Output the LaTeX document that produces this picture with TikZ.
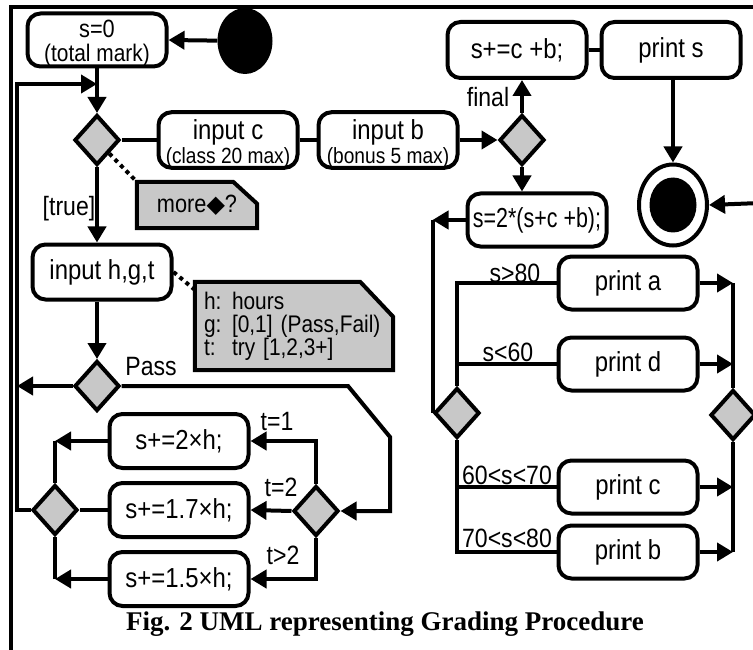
\documentclass[tikz,border=0pt]{standalone}
\usepackage{fontspec}
\setmainfont{Liberation Sans}[FakeStretch=0.87]
\newfontfamily\symfont{DejaVu Sans}
\newfontfamily\capfont{Liberation Serif}
\newfontfamily\narrowfont{Liberation Sans}[FakeStretch=0.78]
\usetikzlibrary{arrows.meta,shapes.geometric,backgrounds}
\definecolor{boxgray}{RGB}{200,200,200}

\tikzset{
  act/.style={draw, line width=4pt, rounded corners=13pt, minimum width=139pt,
    minimum height=53pt, inner sep=0pt, align=center,
    font=\fontsize{27.5}{23}\selectfont},
  dec/.style={draw, line width=4pt, diamond, fill=boxgray, minimum width=45pt,
    minimum height=50pt, inner sep=0pt},
  flow/.style={line width=4pt, line join=miter, -{Triangle[length=16pt,width=18pt]}},
  wire/.style={line width=4pt, line join=miter},
  guard/.style={font=\fontsize{26.5}{25}\selectfont, inner sep=0pt},
  notelink/.style={line width=4pt, dash pattern=on 4pt off 4pt},
  noteshape/.style={draw, line width=4pt, fill=boxgray, line join=miter},
}

\begin{document}
\begin{tikzpicture}[x=1pt,y=-1pt]
\useasboundingbox (0,0) rectangle (753,650);

% frame
\draw[line width=3.5pt] (11,650) -- (11,7) -- (753,7);

% ---------- initial part ----------
\node[fill=black, ellipse, minimum width=55pt, minimum height=66pt, inner sep=0pt] (start) at (245,41) {};
\node[act] (s0) at (97,40) {\rule{0pt}{24pt}{\fontsize{25}{23}\selectfont s=0}\\[1pt]{\fontsize{24}{23}\selectfont (total mark)}};
\node[dec] (d1) at (97,140) {};
\node[act] (inc) at (228,140) {\rule{0pt}{27pt}input c\\[1pt]{\fontsize{22}{23}\selectfont (class 20 max)}};
\node[act] (inb) at (388,140) {\rule{0pt}{27pt}input b\\[1pt]{\fontsize{22}{23}\selectfont (bonus 5 max)}};
\node[dec] (d3) at (522,140) {};
\node[act, minimum height=56pt] (sc) at (517,50) {s+=c +b;};
\node[act, minimum height=56pt] (prs) at (671,50) {print s};
\node[draw, line width=4pt, ellipse, minimum width=68pt, minimum height=81pt, inner sep=0pt] (final) at (673,205) {};
\node[fill=black, ellipse, minimum width=47pt, minimum height=55pt, inner sep=0pt] (finaldot) at (final.center) {};
\coordinate (rin) at (760,203);

% ---------- hours loop ----------
\node[act, minimum height=55pt] (ihg) at (102,272) {input h,g,t};
\node[dec] (d2) at (97,386) {};
\node[act, minimum height=54pt] (b1) at (179,441) {s+=2×h;};
\node[act, minimum height=54pt] (b2) at (179,510) {s+=1.7×h;};
\node[act, minimum height=54pt] (b3) at (179,579) {s+=1.5×h;};
\node[dec] (d6) at (316,511) {};
\node[dec] (d7) at (55,510) {};
\coordinate (loopNW) at (17,84);
\coordinate (bendA) at (348,386);
\coordinate (bendB) at (390,437);

% ---------- grading part ----------
\node[act, font=\narrowfont\fontsize{27.5}{23}\selectfont] (s2) at (537,220) {s=2*(s+c +b);};
\node[dec] (d4) at (457,413) {};
\node[act] (pa) at (628,283) {print a};
\node[act] (pd) at (628,364) {print d};
\node[act] (pc) at (628,487) {print c};
\node[act] (pb) at (628,552) {print b};
\node[dec] (d5) at (733,415) {};

% ---------- notes ----------
\node[minimum width=120pt, minimum height=46pt, inner sep=0pt,
      font=\fontsize{25}{22}\selectfont] (n1) at (197,205) {more{\symfont\fontsize{24}{24}\selectfont◆}?};
\node[minimum width=198pt, minimum height=88pt, inner sep=0pt, text width=180pt,
      align=left, font=\fontsize{24}{23}\selectfont] (n2) at (294,326)
  {\makebox[28pt][l]{h:}hours\\
   \makebox[28pt][l]{g:}[0,1] (Pass,Fail)\\
   \makebox[28pt][l]{t:}try [1,2,3+]};
\begin{scope}[on background layer]
  \draw[noteshape] (n1.south west) -- (n1.north west) -- ([xshift=-24pt]n1.north east)
    -- ([yshift=-22pt]n1.north east) -- (n1.south east) -- cycle;
  \draw[noteshape] (n2.south west) -- (n2.north west) -- ([xshift=-33pt]n2.north east)
    -- ([yshift=-35pt]n2.north east) -- (n2.south east) -- cycle;
\end{scope}
\draw[notelink] (d1.south east) -- (n1.north west);
\draw[notelink] (ihg.east) -- ([yshift=-8pt]n2.north west);

% ---------- connectors: initial part ----------
\draw[flow] (start) -- (s0.east);
\draw[flow] (s0.south) -- (d1.north);
\draw[flow] (d7.west) -| (loopNW) -- (loopNW -| s0.south);
\draw[wire] (d1.east) -- (inc.west);
\draw[wire] (inc.east) -- (inb.west);
\draw[flow] (inb.east) -- (d3.west);
\draw[flow] (d3.north) -- (d3.north |- sc.south);
\draw[wire] (sc.east) -- (prs.west);
\draw[flow] (prs.south -| final.north) -- (final.north);
\draw[flow] (rin) -- (final.east);
\draw[flow] (d3.south) -- (d3.south |- s2.north);
\draw[flow] (d1.south) -- (d1.south |- ihg.north);
\draw[flow] (ihg.south -| d2.north) -- (d2.north);

% ---------- connectors: hours loop ----------
\draw[flow] (d2.west) -- (d2.west -| loopNW);
\draw[flow] (d2.east) -- (bendA) -- (bendB) -- (bendB |- d6.east) -- (d6.east);
\draw[flow] (d6.north) |- (b1.east);
\draw[flow] (d6.west) -- (b2.east);
\draw[flow] (d6.south) |- (b3.east);
\draw[flow] (b1.west) -- (b1.west -| d7.north);
\draw[wire] (b1.west -| d7.north) -- (d7.north);
\draw[wire] (b2.west) -- (d7.east);
\draw[flow] (b3.west) -- (b3.west -| d7.south);
\draw[wire] (b3.west -| d7.south) -- (d7.south);

% ---------- connectors: grading part ----------
\draw[flow] (s2.west) -- (s2.west -| d4.west);
\draw[wire] (s2.west -| d4.west) -- (d4.west);
\draw[wire] (d4.north) |- (pa.west);
\draw[wire] (d4.north |- pd.west) -- (pd.west);
\draw[wire] (d4.south) |- (pb.west);
\draw[wire] (d4.south |- pc.west) -- (pc.west);
\draw[flow] (pa.east) -- (pa.east -| d5.north);
\draw[flow] (pd.east) -- (pd.east -| d5.north);
\draw[flow] (pc.east) -- (pc.east -| d5.south);
\draw[flow] (pb.east) -- (pb.east -| d5.south);
\draw[wire] (pa.east -| d5.north) -- (d5.north);
\draw[wire] (d5.south) -- (pb.east -| d5.south);

% ---------- guards ----------
\node[guard] (gtrue) at (69,209) {[true]};
\node[guard] (gpass) at (151,367) {Pass};
\node[guard] (gfinal) at (488,97) {final};
\node[guard] (gt1) at (277,421) {t=1};
\node[guard] (gt2) at (281,487) {t=2};
\node[guard] (gt3) at (283,555) {t>2};
\node[guard] (g80) at (515,273) {s>80};
\node[guard] (g60) at (508,352) {s<60};
\node[guard] (g6070) at (507,475) {60<s<70};
\node[guard] (g7080) at (507,538) {70<s<80};

% ---------- caption ----------
\node[anchor=base, inner sep=0pt, font=\capfont\bfseries\fontsize{27}{29}\selectfont] (cap) at (385,630)
  {Fig. 2 UML representing Grading Procedure};
\end{tikzpicture}
\end{document}
